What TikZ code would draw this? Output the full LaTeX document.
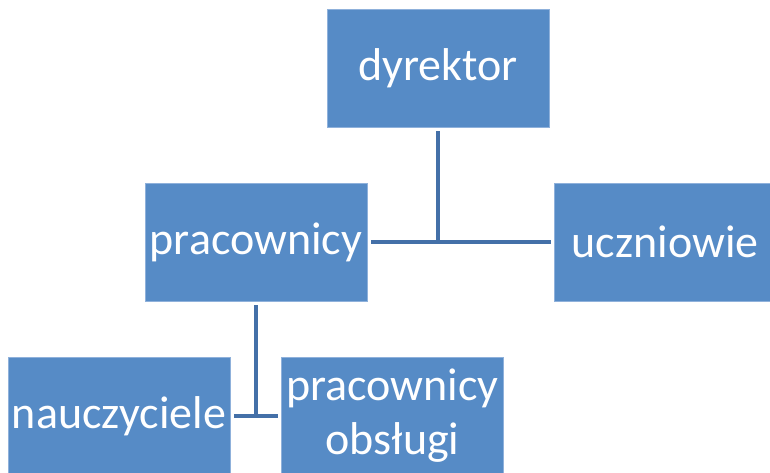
\documentclass[tikz,border=0pt]{standalone}
\usepackage{fontspec}
\setmainfont{Carlito}
\definecolor{boxfill}{HTML}{568BC6}
\definecolor{boxline}{HTML}{8FB1DB}
\definecolor{connline}{HTML}{4470A8}
\tikzset{
  orgbox/.style={draw=boxline, line width=0.8pt, fill=boxfill, text=white,
    minimum width=222pt, minimum height=118pt, inner sep=0pt, align=center,
    font=\fontsize{46}{54}\selectfont},
  conn/.style={draw=connline, line width=3.5pt, shorten <=4pt, shorten >=3pt}
}
\begin{document}
\begin{tikzpicture}[x=1pt,y=-1pt]
\useasboundingbox (0,0) rectangle (770,472);
\clip (0,0) rectangle (770,472);
\node[orgbox] (dyr) at (438,68) {dyrektor};
\node[orgbox] (prac) at (256,242) {pracownicy};
\node[orgbox] (ucz) at (665,242) {uczniowie};
\node[orgbox] (nauc) at (119,416) {nauczyciele};
\node[orgbox] (obs) at (392.5,416) {pracownicy\\obsługi};
\coordinate (j1) at (438,243.5);
\coordinate (j2) at (256,417.5);
\draw[conn, shorten >=0pt] (dyr) -- (j1);
\draw[conn] (prac) -- (ucz);
\draw[conn, shorten >=0pt] (prac) -- (j2);
\draw[conn] (nauc) -- (obs);
\end{tikzpicture}
\end{document}
